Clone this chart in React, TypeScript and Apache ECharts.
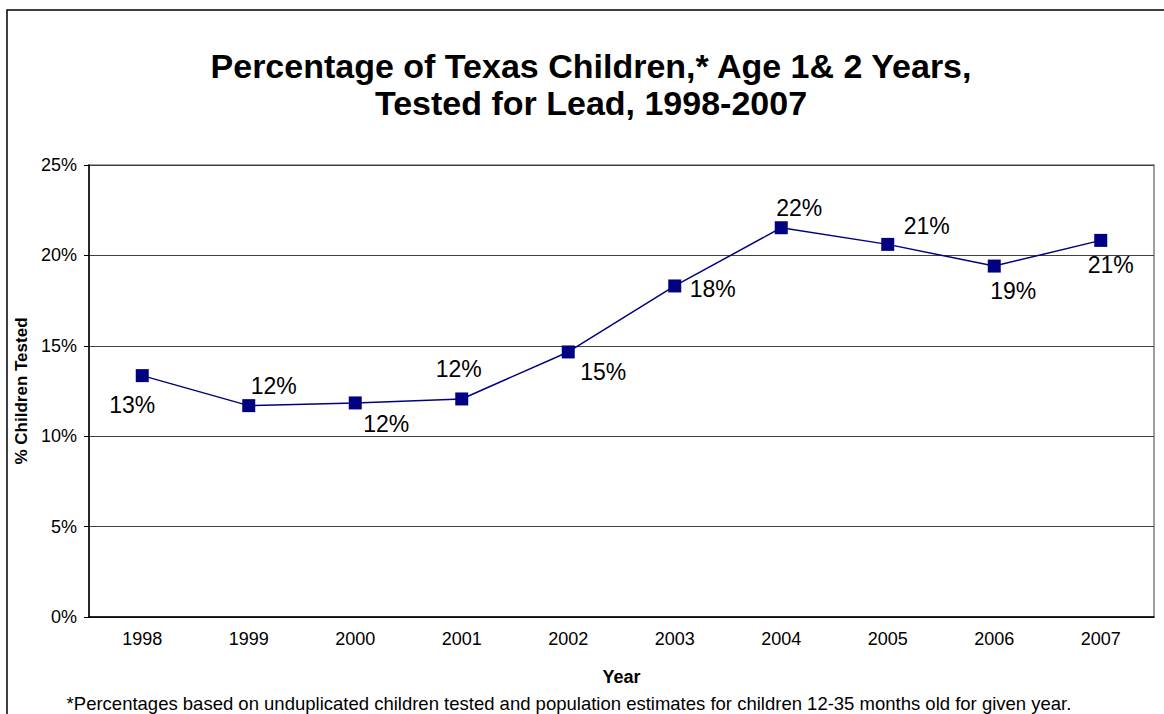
import React, { useEffect, useRef } from "react";
import * as echarts from "echarts";

const years = ["1998", "1999", "2000", "2001", "2002", "2003", "2004", "2005", "2006", "2007"];
const tested = [13.35, 11.69, 11.84, 12.06, 14.66, 18.31, 21.53, 20.61, 19.41, 20.83];
const labelOffsets: [number, number][] = [
  [-10, 29], [25, -20], [31, 21], [-3, -30], [35, 20], [38, 3], [18, -20], [39, -18], [19, 25], [10, 25],
];
const yTicks = [0, 5, 10, 15, 20, 25];

const FONT = "'Liberation Sans', Arial, sans-serif";

export default function App() {
  const ref = useRef<HTMLDivElement>(null);
  useEffect(() => {
    if (!ref.current) return;
    const chart = echarts.init(ref.current, null, { renderer: "svg" });
    chart.setOption({
      animation: false,
      backgroundColor: "#ffffff",
      textStyle: { fontFamily: FONT },
      title: {
        text: "Percentage of Texas Children,* Age 1& 2 Years,\nTested for Lead, 1998-2007",
        left: 586,
        textAlign: "center",
        top: 42,
        textStyle: { fontFamily: FONT, fontSize: 34, fontWeight: "bold", color: "#000", lineHeight: 37 },
      },
      grid: {
        left: 89,
        top: 165,
        right: 10,
        bottom: 97,
        show: true,
        borderColor: "#808080",
        borderWidth: 1.5,
        backgroundColor: "transparent",
      },
      xAxis: {
        type: "category",
        data: years,
        boundaryGap: true,
        name: "Year",
        nameLocation: "middle",
        nameGap: 51,
        nameTextStyle: { fontFamily: FONT, fontSize: 18, fontWeight: "bold", color: "#000" },
        axisLine: { lineStyle: { color: "#000", width: 1.5 } },
        axisTick: { inside: true, length: 5, lineStyle: { color: "#000" }, alignWithLabel: false },
        axisLabel: { fontFamily: FONT, fontSize: 18, color: "#000", margin: 13 },
        splitLine: { show: false },
      },
      yAxis: {
        type: "value",
        min: yTicks[0],
        max: yTicks[yTicks.length - 1],
        interval: 5,
        name: "% Children Tested",
        nameLocation: "middle",
        nameGap: 58,
        nameTextStyle: { fontFamily: FONT, fontSize: 17, fontWeight: "bold", color: "#000" },
        axisLine: { show: true, lineStyle: { color: "#000", width: 1.5 } },
        axisTick: { show: true, length: 5, lineStyle: { color: "#000" } },
        axisLabel: { fontFamily: FONT, fontSize: 18, color: "#000", margin: 12, formatter: "{value}%" },
        splitLine: { show: true, lineStyle: { color: "#404040", width: 1 } },
      },
      series: [
        {
          type: "line",
          data: tested.map((v, i) => ({
            value: v,
            label: { offset: labelOffsets[i] },
          })),
          symbol: "rect",
          symbolSize: 13,
          lineStyle: { color: "#000080", width: 1.5 },
          itemStyle: { color: "#000080" },
          label: {
            show: true,
            position: "inside",
            align: "center",
            verticalAlign: "middle",
            fontFamily: FONT,
            fontSize: 23,
            color: "#000",
            formatter: (p: any) => Math.round(p.value) + "%",
          },
          z: 3,
        },
      ],
      graphic: [
        {
          type: "rect",
          shape: { x: 7, y: 10, width: 1300, height: 900 },
          style: { fill: "none", stroke: "#000", lineWidth: 1.5 },
          silent: true,
        },
        {
          type: "text",
          x: 569,
          y: 703,
          style: {
            text: "*Percentages based on unduplicated children tested and population estimates for children 12-35 months old for given year.",
            fontFamily: FONT,
            fontSize: 18.5,
            fill: "#000",
            align: "center",
            verticalAlign: "middle",
          },
        },
      ],
    });
    return () => chart.dispose();
  }, []);
  return (
    <div
      ref={ref}
      style={{ position: "fixed", left: 0, top: 0, width: 1164, height: 714 }}
    />
  );
}
